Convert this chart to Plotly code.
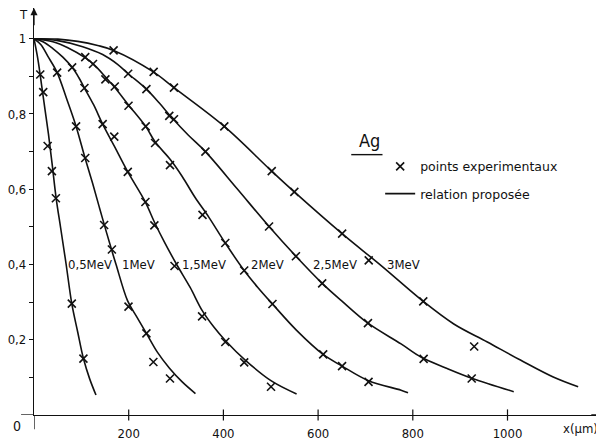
import plotly.graph_objects as go

# Transmission T of electrons through Ag versus thickness x (µm)
ENERGIES = ["0,5MeV", "1MeV", "1,5MeV", "2MeV", "2,5MeV", "3MeV"]

# relation proposée
CURVE_X_05 = [0, 8.4, 15.8, 23.1, 30.5, 38.2, 46.8, 56.3, 67.9, 79.8, 92.4, 104.4, 117.6, 130.9]
CURVE_T_05 = [1.0, 0.944, 0.879, 0.813, 0.747, 0.668, 0.576, 0.497, 0.400, 0.296, 0.220, 0.150, 0.096, 0.053]

CURVE_X_10 = [0, 14.7, 29.4, 48.9, 69.3, 88.9, 107.8, 123.9, 138.7, 153.4, 163.9, 173.3,
              197.5, 216.4, 237.4, 260.5, 285.7, 313.0, 341.0]
CURVE_T_10 = [1.0, 0.984, 0.953, 0.910, 0.839, 0.767, 0.683, 0.615, 0.549, 0.484, 0.439, 0.400,
              0.304, 0.262, 0.217, 0.167, 0.125, 0.088, 0.057]

CURVE_X_15 = [0, 18.9, 39.9, 60.9, 80.5, 94.5, 106.5, 126.1, 145.0, 170.2, 198.1, 234.7,
              254.2, 275.2, 300.4, 329.8, 355.0, 380.3, 404.0, 446.0, 502.1, 554.6]
CURVE_T_15 = [1.0, 0.992, 0.974, 0.951, 0.924, 0.897, 0.869, 0.824, 0.773, 0.713, 0.646, 0.567,
              0.513, 0.460, 0.402, 0.339, 0.278, 0.233, 0.198, 0.146, 0.090, 0.056]

CURVE_X_20 = [0, 39.9, 71.4, 108.6, 128.2, 151.9, 170.2, 199.6, 235.9, 255.7, 287.8, 313.0,
              340.3, 369.1, 404.0, 443.9, 472.7, 503.6, 554.6, 610.7, 650.6, 706.5, 775.2, 789.9]
CURVE_T_20 = [1.0, 0.992, 0.976, 0.949, 0.929, 0.897, 0.871, 0.824, 0.767, 0.726, 0.679, 0.634,
              0.578, 0.526, 0.457, 0.384, 0.339, 0.295, 0.225, 0.161, 0.130, 0.091, 0.066, 0.059]

CURVE_X_25 = [0, 50.4, 102.9, 145.0, 176.5, 198.9, 237.4, 264.7, 289.9, 325.6, 362.0, 428.6,
              496.4, 553.2, 608.6, 649.2, 705.3, 775.2, 817.2, 869.7, 925.8, 1013.2]
CURVE_T_25 = [1.0, 0.995, 0.979, 0.958, 0.932, 0.907, 0.866, 0.829, 0.792, 0.744, 0.700, 0.602,
              0.501, 0.422, 0.350, 0.304, 0.244, 0.189, 0.154, 0.125, 0.097, 0.062]

CURVE_X_30 = [0, 50.4, 92.4, 134.5, 168.1, 252.1, 295.6, 401.9, 502.1, 549.8, 650.6, 733.2,
              822.1, 886.6, 957.4, 1027.3, 1096.6, 1149.2]
CURVE_T_30 = [1.0, 0.999, 0.993, 0.982, 0.969, 0.912, 0.870, 0.767, 0.648, 0.593, 0.482, 0.397,
              0.302, 0.242, 0.194, 0.146, 0.101, 0.075]

# points experimentaux
PTS_X_05 = [13.2, 19.5, 28.8, 37.8, 46.2, 79.8, 104.4]
PTS_T_05 = [0.905, 0.858, 0.715, 0.648, 0.576, 0.296, 0.150]

PTS_X_10 = [48.9, 88.9, 108.2, 148.1, 164.5, 199.6, 237.4, 252.1, 287.2]
PTS_T_10 = [0.910, 0.767, 0.683, 0.505, 0.440, 0.288, 0.217, 0.141, 0.097]

PTS_X_15 = [80.5, 106.5, 145.0, 169.5, 198.1, 235.3, 254.2, 296.8, 355.0, 404.0, 443.9, 500.6]
PTS_T_15 = [0.924, 0.869, 0.773, 0.740, 0.646, 0.566, 0.504, 0.396, 0.262, 0.194, 0.140, 0.075]

PTS_X_20 = [108.2, 124.6, 150.8, 170.6, 199.6, 235.9, 255.7, 287.2, 355.9, 404.0, 443.9,
            503.6, 610.7, 650.6, 706.5]
PTS_T_20 = [0.951, 0.933, 0.892, 0.873, 0.822, 0.767, 0.723, 0.664, 0.532, 0.457, 0.384,
            0.295, 0.161, 0.130, 0.088]

PTS_X_25 = [198.9, 237.4, 285.7, 295.6, 362.0, 496.4, 553.2, 608.6, 705.3, 822.9, 924.4]
PTS_T_25 = [0.907, 0.866, 0.795, 0.786, 0.700, 0.501, 0.422, 0.350, 0.244, 0.149, 0.097]

PTS_X_30 = [168.1, 252.7, 295.6, 401.9, 502.1, 549.8, 650.8, 706.9, 822.1, 929.6]
PTS_T_30 = [0.969, 0.912, 0.870, 0.767, 0.648, 0.593, 0.482, 0.411, 0.302, 0.182]

X_TICKS = [200, 400, 600, 800, 1000]
Y_TICKS = [0.1, 0.2, 0.3, 0.4, 0.5, 0.6, 0.7, 0.8, 0.9, 1.0]
Y_TICK_TEXT = ["", "0,2", "", "0,4", "", "0,6", "", "0,8", "", "1"]

CURVES = [
    (CURVE_X_05, CURVE_T_05, PTS_X_05, PTS_T_05),
    (CURVE_X_10, CURVE_T_10, PTS_X_10, PTS_T_10),
    (CURVE_X_15, CURVE_T_15, PTS_X_15, PTS_T_15),
    (CURVE_X_20, CURVE_T_20, PTS_X_20, PTS_T_20),
    (CURVE_X_25, CURVE_T_25, PTS_X_25, PTS_T_25),
    (CURVE_X_30, CURVE_T_30, PTS_X_30, PTS_T_30),
]

# where each energy label sits (left edge), just right of its curve near T = 0.4
LABEL_X = [67, 182, 308, 453, 585, 741]
LABEL_T = 0.40

# the axes cross at the origin; the plot box starts there
X_RANGE = [0, 1203.8]
Y_RANGE = [0, 1.0817]

NARROW = "'Liberation Sans Narrow', 'DejaVu Sans Condensed', 'Arial Narrow', sans-serif"
WIDE = "'DejaVu Sans', Verdana, sans-serif"
INK = "#111111"

fig = go.Figure()

for i, (cx, ct, px, pt) in enumerate(CURVES):
    fig.add_trace(go.Scatter(
        x=px, y=pt, mode="markers", cliponaxis=False,
        marker=dict(symbol="x-thin-open", size=8, color=INK, line=dict(color=INK, width=1.6)),
        name="points experimentaux", legendgroup="pts", showlegend=(i == 0),
    ))

for i, (cx, ct, px, pt) in enumerate(CURVES):
    fig.add_trace(go.Scatter(
        x=cx, y=ct, mode="lines", cliponaxis=False,
        line=dict(color=INK, width=1.6, shape="spline", smoothing=1.0),
        name="relation proposée", legendgroup="rel", showlegend=(i == 0),
    ))

# x ticks cross the axis line, as drawn by hand on the original
fig.add_trace(go.Scatter(
    x=X_TICKS, y=[0] * len(X_TICKS), mode="markers", cliponaxis=False,
    marker=dict(symbol="line-ns-open", size=8, color=INK, line=dict(color=INK, width=1.2)),
    showlegend=False, hoverinfo="skip",
))

for label, lx in zip(ENERGIES, LABEL_X):
    fig.add_annotation(x=lx, y=LABEL_T, text=label, showarrow=False,
                       xanchor="left", yanchor="middle",
                       font=dict(family=NARROW, size=13, color=INK))

# axis extensions past the origin (x axis runs left of the T axis, T axis runs below)
fig.add_shape(type="line", xref="paper", x0=-0.0227, x1=0, yref="y", y0=0, y1=0,
              line=dict(color=INK, width=1.3))
fig.add_shape(type="line", xref="x", x0=0, x1=0, yref="paper", y0=0, y1=-0.0353,
              line=dict(color=INK, width=1.3))

# axis arrowheads
fig.add_annotation(x=X_RANGE[1], y=0, ax=X_RANGE[1] - 30, ay=0, axref="x", ayref="y",
                   text="", showarrow=True, arrowhead=2, arrowsize=1.1,
                   arrowwidth=1.3, arrowcolor=INK)
fig.add_annotation(x=0, y=Y_RANGE[1], ax=0, ay=Y_RANGE[1] - 0.05, axref="x", ayref="y",
                   text="", showarrow=True, arrowhead=2, arrowsize=1.1,
                   arrowwidth=1.3, arrowcolor=INK)

# axis names and the origin mark sit outside the data box, so place them on the paper
fig.add_annotation(x=-0.0192, xref="paper", y=0.983, yref="paper", text="T",
                   xanchor="center", yanchor="middle", showarrow=False,
                   font=dict(family=NARROW, size=13, color=INK))
fig.add_annotation(x=-0.030, xref="paper", y=-0.026, yref="paper", text="0",
                   xanchor="center", yanchor="middle", showarrow=False,
                   font=dict(family=NARROW, size=14, color=INK))
fig.add_annotation(x=0.993, xref="paper", y=-0.0329, yref="paper", text="x(µm)",
                   xanchor="right", yanchor="middle", showarrow=False,
                   font=dict(family=NARROW, size=13, color=INK))

# material name, underlined
fig.add_annotation(x=708, y=0.729, text="Ag", showarrow=False,
                   font=dict(family=NARROW, size=18, color=INK))
fig.add_shape(type="line", x0=670, x1=736, y0=0.692, y1=0.692,
              line=dict(color=INK, width=1.4))

# the page puts the figure 8 px in from the top-left corner
fig.update_layout(
    width=596, height=433,
    margin=dict(l=23, r=0, t=0, b=22.5),
    paper_bgcolor="white", plot_bgcolor="white",
    legend=dict(x=0.6073, y=0.6468, xanchor="left", yanchor="top",
                font=dict(family=WIDE, size=12.5, color=INK),
                bgcolor="rgba(0,0,0,0)", tracegroupgap=8, itemwidth=30),
)

fig.update_xaxes(
    range=X_RANGE, showline=True, linecolor=INK, linewidth=1.3,
    showgrid=False, zeroline=False,
    tickmode="array", tickvals=X_TICKS, ticktext=[str(v) for v in X_TICKS],
    ticks="", ticklabelstandoff=6,
    tickfont=dict(family=NARROW, size=13, color=INK),
)
fig.update_yaxes(
    range=Y_RANGE, showline=True, linecolor=INK, linewidth=1.3,
    showgrid=False, zeroline=False,
    tickmode="array", tickvals=Y_TICKS, ticktext=Y_TICK_TEXT,
    ticks="outside", ticklen=4, tickcolor=INK, tickwidth=1.2,
    tickfont=dict(family=NARROW, size=13, color=INK),
)

fig.write_html("out.html")
